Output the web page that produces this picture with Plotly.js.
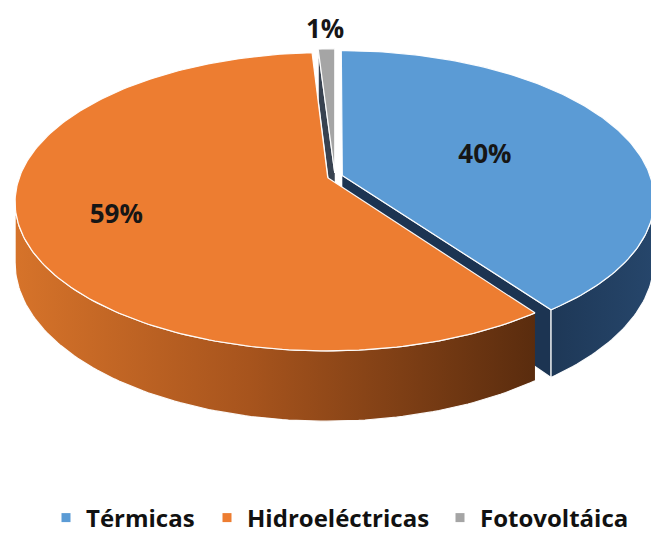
<!DOCTYPE html>
<html><head><meta charset="utf-8">
<script src="https://cdn.plot.ly/plotly-3.0.1.min.js"></script>
<style>html,body{margin:0;padding:0;background:#fff}#chart{width:651px;height:533px}</style>
</head><body><div id="chart"></div>
<script>
// ---- data ----
const categories = ['Térmicas', 'Hidroeléctricas', 'Fotovoltáica'];
const values = [40, 59, 1];
const labelTexts = values.map(v => v + '%');

// ---- styles ----
const topColors = ['#5B9BD5', '#ED7D31', '#A5A5A5'];
const sideScales = [
  [[0, '#1E3857'], [1, '#26466B']],
  [[0, '#D6732A'], [0.45, '#A7541D'], [1, '#5A2C0E']],
  [[0, '#4A5058'], [1, '#4A5058']]
];
const faceColors = ['#1C3452', '#7A3D14', '#384250'];
const labelRadius = [0.5, 0.7, 1.2];
const LABEL_DY = 3;

const CX = 335, CY = 176.5, A = 308, K = 145, P = 0.16, D = 59, EXPLODE = 0.025;
function proj(X, Z, h) {
  const s = 1 / (1 + P * Z);
  return [CX + A * X * s, CY - K * Z * s + D * h * s];
}
const total = values.reduce((a, b) => a + b, 0);
let acc = 0;
const slices = values.map((v, i) => {
  const t0 = acc / total * 2 * Math.PI; acc += v;
  const t1 = acc / total * 2 * Math.PI;
  const mid = (t0 + t1) / 2;
  return {i, t0, t1, mid, ox: EXPLODE * Math.sin(mid), oz: EXPLODE * Math.cos(mid)};
});
function rim(s, th, h) { return proj(s.ox + Math.sin(th), s.oz + Math.cos(th), h); }
function apex(s, h) { return proj(s.ox, s.oz, h); }
function arc(s, a, b, h) {
  const n = Math.max(2, Math.ceil(Math.abs(b - a) / (Math.PI / 180)));
  const pts = [];
  for (let k = 0; k <= n; k++) pts.push(rim(s, a + (b - a) * k / n, h));
  return pts;
}
function poly(pts, extra) {
  return Object.assign({
    type: 'scatter', mode: 'lines', fill: 'toself',
    x: pts.map(p => p[0]), y: pts.map(p => p[1]),
    line: {color: 'rgba(255,255,255,0.95)', width: 1.2},
    hoverinfo: 'skip', showlegend: false
  }, extra);
}

const thR = Math.acos(-P), thL = 2 * Math.PI - thR;
const sides = [];
slices.forEach(s => {
  const a = Math.max(s.t0, thR), b = Math.min(s.t1, thL);
  if (a < b) {
    const pts = arc(s, a, b, 0).concat(arc(s, b, a, 1));
    sides.push({z: s.oz + Math.cos((a + b) / 2), tr: poly(pts, {
      fillcolor: sideScales[s.i][0][1],
      fillgradient: {type: 'horizontal', colorscale: sideScales[s.i]}
    })});
  }
  [[s.t0, -1], [s.t1, 1]].forEach(([ph, sg]) => {
    const nx = sg * Math.cos(ph), nz = -sg * Math.sin(ph);
    const cx = s.ox + 0.5 * Math.sin(ph), cz = s.oz + 0.5 * Math.cos(ph);
    const dot = nx * (0 - cx) + nz * (-1 / P - cz);
    if (dot > 0.05) {
      const pts = [apex(s, 0), rim(s, ph, 0), rim(s, ph, 1), apex(s, 1)];
      sides.push({z: cz, tr: poly(pts, {fillcolor: faceColors[s.i]})});
    }
  });
});
sides.sort((p, q) => q.z - p.z);

const tops = slices.map(s => {
  const pts = [apex(s, 0)].concat(arc(s, s.t0, s.t1, 0)).concat([apex(s, 0)]);
  return poly(pts, {fillcolor: topColors[s.i]});
});

const labelPts = slices.map(s => proj(s.ox + labelRadius[s.i] * Math.sin(s.mid),
                                      s.oz + labelRadius[s.i] * Math.cos(s.mid), 0));
const labelTrace = {
  type: 'scatter', mode: 'text',
  x: labelPts.map(p => p[0]), y: labelPts.map(p => p[1] + LABEL_DY),
  text: labelTexts, textposition: 'middle center',
  textfont: {family: 'Open Sans, sans-serif', size: 26, color: '#161616', weight: 'bold'},
  hoverinfo: 'skip', showlegend: false
};

const legendNames = ['legend', 'legend2', 'legend3'];
const legendTraces = categories.map((c, i) => ({
  type: 'scatter', mode: 'markers', x: [null], y: [null], name: c,
  marker: {symbol: 'square', size: 9, color: topColors[i]},
  legend: legendNames[i], showlegend: true
}));

const legendX = [46, 207, 440];
const legFont = {family: 'Open Sans, sans-serif', size: 24, color: '#111', weight: 'bold'};
const layout = {
  width: 651, height: 533,
  margin: {l: 0, r: 0, t: 0, b: 0, autoexpand: false},
  paper_bgcolor: '#fff', plot_bgcolor: '#fff',
  xaxis: {range: [0, 651], visible: false, fixedrange: true},
  yaxis: {range: [533, 0], visible: false, fixedrange: true},
  showlegend: true
};
legendNames.forEach((n, i) => {
  layout[n] = {x: legendX[i] / 651, xanchor: 'left', y: 15 / 533, yanchor: 'middle',
               orientation: 'h', font: legFont, bgcolor: 'rgba(0,0,0,0)', borderwidth: 0};
});

Plotly.newPlot('chart', sides.map(s => s.tr).concat(tops, [labelTrace], legendTraces), layout,
  {staticPlot: true, displayModeBar: false});
</script></body></html>
